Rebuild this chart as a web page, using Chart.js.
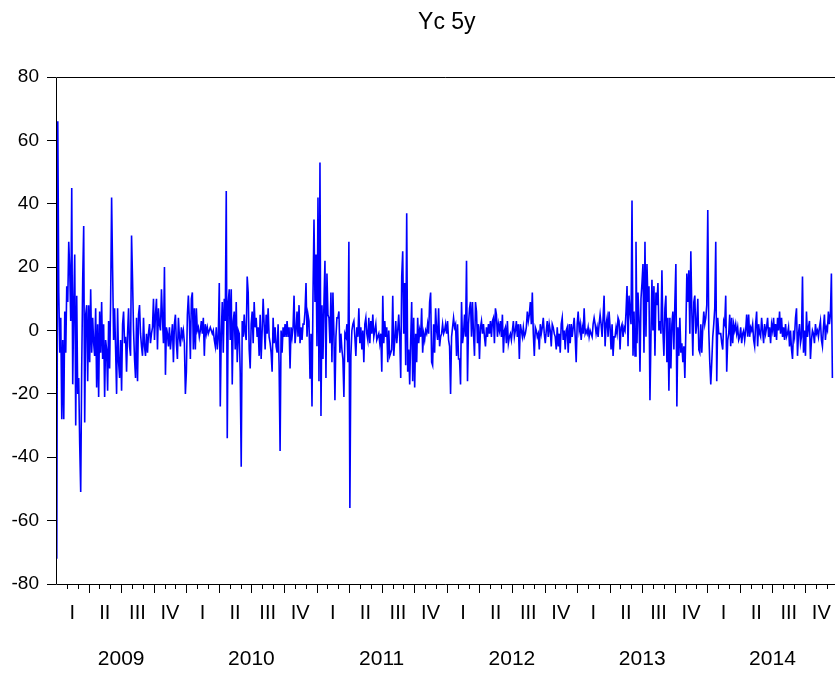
<!DOCTYPE html>
<html>
<head>
<meta charset="utf-8">
<title>Yc 5y</title>
<script src="https://cdn.jsdelivr.net/npm/chart.js@4/dist/chart.umd.min.js"></script>
<style>
  html, body { margin: 0; padding: 0; background: #fff; }
</style>
</head>
<body>
<canvas id="ycChart" width="835" height="673"></canvas>
<script>
const chartTitle = "Yc 5y";
const startYear = 2009;
const firstObs = 2009.006; // first trading day of 2009
const lastObs = 2014.96;   // last observation, late December 2014
const axisEnd = 2014.98;   // the picture is cut just before the end of 2014
const yearLabels = ["2009", "2010", "2011", "2012", "2013", "2014"];
const quarterLabels = ["I", "II", "III", "IV"];
const yTicks = [-80, -60, -40, -20, 0, 20, 40, 60, 80];

// daily changes (roughly one value per pixel column)
const yc5y = [
  -72, 66, 12, -7, 4, -28, -3, -28, 6, -7, 14, 9, 28, 19, 3, 45, -17, 8, 24, -30,
  11, -20, -15, -36, -51, -12, 16, 33, -29, 5, 8, -16, 8, -10, 13, -7, 4, -4, -8, 7,
  -18, 2, -21, 6, -7, 9, -9, 2, -21, -3, -6, -19, 3, -12, 9, 42, 19, -3, 7, -6,
  -20, 7, -10, -15, -3, -19, 2, 6, -4, -2, -13, -1, 7, -5, -8, 30, 16, 0, -9, -15,
  4, -16, 5, 8, -1, -5, -8, 4, -5, -8, -1, -7, -1, 2, -4, -1, 1, 10, -3, 5,

  10, -6, 7, 2, 0, 13, 4, -4, 20, -14, 1, -1, -5, 1, -6, -2, 2, -10, 2, 5,
  -4, -9, 4, -2, -5, 1, -2, 0, -4, -20, -13, 5, 11, 3, -9, 10, 12, -6, 7, -6,
  7, 0, 1, -2, 0, 3, -1, 4, -8, 2, -1, 1, -1, 0, 1, 0, -1, 0, -3, -5,
  1, -6, -2, 15, -24, -1, 9, -7, 10, 3, 44, -34, 9, 13, -3, 13, -17, 3, 6, -6,
  9, -10, 0, -1, -13, -43, 3, -2, 5, -1, -3, 17, 12, -6, -12, 2, 6, -4, 9, 1,

  4, -2, 1, -8, 5, -9, 0, 10, 2, -6, 5, -1, 7, -2, -4, -7, -13, 4, -4, 1,
  -5, -7, 2, -11, -38, 0, -7, 1, -2, 2, -2, 3, -2, 1, -12, 1, -2, 1, 11, -4,
  0, 6, -2, 8, -4, 1, -3, 2, 2, 6, 15, -2, 5, 3, -15, -1, -24, 11, 35, 9,
  24, -5, 42, -16, 53, -27, 8, -9, 9, 22, -15, 18, 5, 4, -4, 12, -10, 12, -1, -22,
  -2, 4, 4, 6, -7, -1, -6, -9, -21, -1, -2, 2, -10, 28, -56, -8, 0, 2, 3, -2,

  -8, 1, -2, 7, -4, 1, -6, 0, -10, 2, 4, -1, -3, 4, -4, 3, -1, 5, -2, 0,
  2, -3, -2, -1, -4, -1, -13, 11, -4, 3, -2, 1, -10, 0, -8, -7, -6, 11, -8, -3,
  3, -4, 0, 5, -2, -15, 17, 25, -1, 15, -11, 37, -13, -6, -17, -3, 9, -16, 4, -18,
  -1, -10, 4, -4, 0, -2, 7, -7, -1, -3, 0, -1, 2, -1, 9, 12, -10, -11, 2, -7,
  7, 0, -3, 7, -5, -2, -1, 2, -1, 0, 2, -1, 3, -3, -5, -20, -2, 1, 4, 1,

  2, -8, 2, -9, -9, -17, 9, -4, -1, 5, -2, 22, -16, 2, 7, 9, -2, 9, -1, -8,
  9, 6, -4, 2, -9, 1, 3, -1, 2, -2, -5, 1, -2, 2, -1, 3, -2, 3, 4, -4,
  7, 5, -2, 2, 0, 3, -2, 5, -7, 0, 1, -4, 3, -4, -2, -1, -3, 0, 3, -2,
  0, 3, -2, 2, -9, 2, 0, -2, 1, -2, -1, 1, 6, 3, 5, 9, 2, 12, -1, -8,
  1, 0, -2, -1, -6, 2, -1, 1, 4, -1, -4, 0, 3, -2, 2, 0, -5, 2, 1, -1,

  -2, -6, 1, -5, -1, -7, 2, 4, -3, 0, -6, 0, 1, -7, 2, -4, 2, -2, 1, 4,
  -2, -10, 2, 6, 0, 2, -3, 1, -1, 7, -1, 0, -1, 1, -2, 0, -1, -2, 2, 4,
  2, -1, 1, -2, 2, 5, 2, -2, 4, 11, -5, 2, 4, -2, 6, 1, -6, 2, -8, -2,
  -2, 1, -1, 4, 3, -6, 1, 2, -2, 1, 0, 6, 14, -5, 11, 6, 2, 41, -8, 6,
  -8, 28, -4, 12, 4, -13, 10, 15, 21, -7, 28, -2, 21, 9, 14, -22, -2, 16, 0, 14,

  -8, 12, 8, 15, 0, 3, -1, 19, 0, -8, 7, 11, -10, 4, -19, 4, -12, 2, 6, -6,
  9, 21, -24, 1, -8, 4, -7, -4, -10, -5, -15, 0, 18, 9, 19, -1, 25, 6, -8, 9,
  11, -1, 2, 10, -6, -7, 2, -7, 1, 6, 2, 4, 8, 38, 0, -10, -17, -10, -2, 2,
  7, 28, -16, 4, -1, -1, -1, -4, -6, 3, 2, 11, -13, -3, -1, 5, -5, 4, -4, 2,
  0, 2, -1, 1, -3, -2, 1, -4, -1, 0, -3, 0, 5, -2, 5, -2, 1, 0, 2, -3,

  -5, 2, 6, -5, 2, -1, -2, 4, 0, -4, 2, -1, 1, 4, -2, 1, -4, 2, 0, 4,
  -2, 2, -3, 4, 0, 6, -1, 4, -2, 1, -3, 2, -2, -1, 1, -5, 0, -6, -9, 0,
  -2, 4, 7, -8, -1, 2, -4, -2, 17, -7, 0, -8, 6, -2, 1, 3, -9, -3, 0, -1,
  -4, 2, -1, 0, -2, 1, 3, -3, -5, 1, 5, -3, 1, 0, 6, 2, 5, 18, -15
];

const points = yc5y.map((v, i) => ({
  x: firstObs + (lastObs - firstObs) * i / (yc5y.length - 1),
  y: v,
}));

const quarterCenters = [];
const yearCenters = [];
yearLabels.forEach((_, yi) => {
  yearCenters.push({ value: startYear + yi + 0.5 });
  for (let q = 0; q < 4; q++) {
    quarterCenters.push({ value: startYear + yi + q / 4 + 0.125 });
  }
});

const fontFamily = "'Liberation Sans', Arial, sans-serif";

const noSidePadding = (s, h) => {
  s.height = h;
  s.paddingLeft = 0;
  s.paddingRight = 0;
};

// frame, month tick marks and title
const framePlugin = {
  id: "frame",
  afterDatasetsDraw(chart) {
    const { ctx, chartArea: a, scales, width } = chart;
    ctx.save();
    ctx.strokeStyle = "#000";
    ctx.lineWidth = 1;
    ctx.beginPath();
    ctx.moveTo(width, a.top + 0.5);
    ctx.lineTo(a.left + 0.5, a.top + 0.5);
    ctx.lineTo(a.left + 0.5, a.bottom + 0.5);
    ctx.lineTo(width, a.bottom + 0.5);
    ctx.stroke();

    ctx.beginPath();
    for (let m = 1; startYear + m / 12 < axisEnd; m++) {
      const px = Math.round(scales.x.getPixelForValue(startYear + m / 12)) + 0.5;
      const len = m % 3 === 0 ? 9 : 5;
      ctx.moveTo(px, a.bottom);
      ctx.lineTo(px, a.bottom + len);
    }
    ctx.stroke();

    const midYear = startYear + yearLabels.length / 2;
    ctx.fillStyle = "#000";
    ctx.font = "23px " + fontFamily;
    ctx.textAlign = "center";
    ctx.textBaseline = "alphabetic";
    ctx.fillText(chartTitle, scales.x.getPixelForValue(midYear), 29);
    ctx.restore();
  },
};

const ctx = document.getElementById("ycChart").getContext("2d");
new Chart(ctx, {
  type: "line",
  data: {
    datasets: [
      {
        label: chartTitle,
        data: points,
        borderColor: "#0000ff",
        borderWidth: 1.6,
        pointRadius: 0,
        fill: false,
        tension: 0,
      },
    ],
  },
  options: {
    responsive: false,
    animation: false,
    devicePixelRatio: 1,
    layout: { padding: { top: 77, right: 0, left: 0, bottom: 0 } },
    plugins: {
      legend: { display: false },
      tooltip: { enabled: false },
      title: { display: false },
    },
    scales: {
      x: {
        type: "linear",
        position: "bottom",
        weight: 1,
        min: startYear,
        max: axisEnd,
        afterBuildTicks: (s) => { s.ticks = quarterCenters.map((t) => ({ ...t })); },
        ticks: {
          autoSkip: false,
          maxRotation: 0,
          padding: 17,
          color: "#000",
          font: { family: fontFamily, size: 20 },
          callback: (v, i) => quarterLabels[i % 4],
        },
        grid: { display: false, drawTicks: false },
        border: { display: false },
        afterFit: (s) => noSidePadding(s, 50),
      },
      x2: {
        type: "linear",
        position: "bottom",
        weight: 2,
        min: startYear,
        max: axisEnd,
        afterBuildTicks: (s) => { s.ticks = yearCenters.map((t) => ({ ...t })); },
        ticks: {
          autoSkip: false,
          maxRotation: 0,
          padding: 13,
          color: "#000",
          font: { family: fontFamily, size: 21 },
          callback: (v, i) => yearLabels[i],
        },
        grid: { display: false, drawTicks: false },
        border: { display: false },
        afterFit: (s) => noSidePadding(s, 39),
      },
      y: {
        type: "linear",
        min: -80,
        max: 80,
        afterBuildTicks: (s) => { s.ticks = yTicks.map((v) => ({ value: v })); },
        ticks: {
          padding: 8,
          color: "#000",
          font: { family: fontFamily, size: 19 },
        },
        grid: { drawOnChartArea: false, drawTicks: true, tickLength: 9, color: "#000" },
        border: { display: false },
        afterFit: (s) => { s.width = 56; },
      },
    },
  },
  plugins: [framePlugin],
});
</script>
</body>
</html>
